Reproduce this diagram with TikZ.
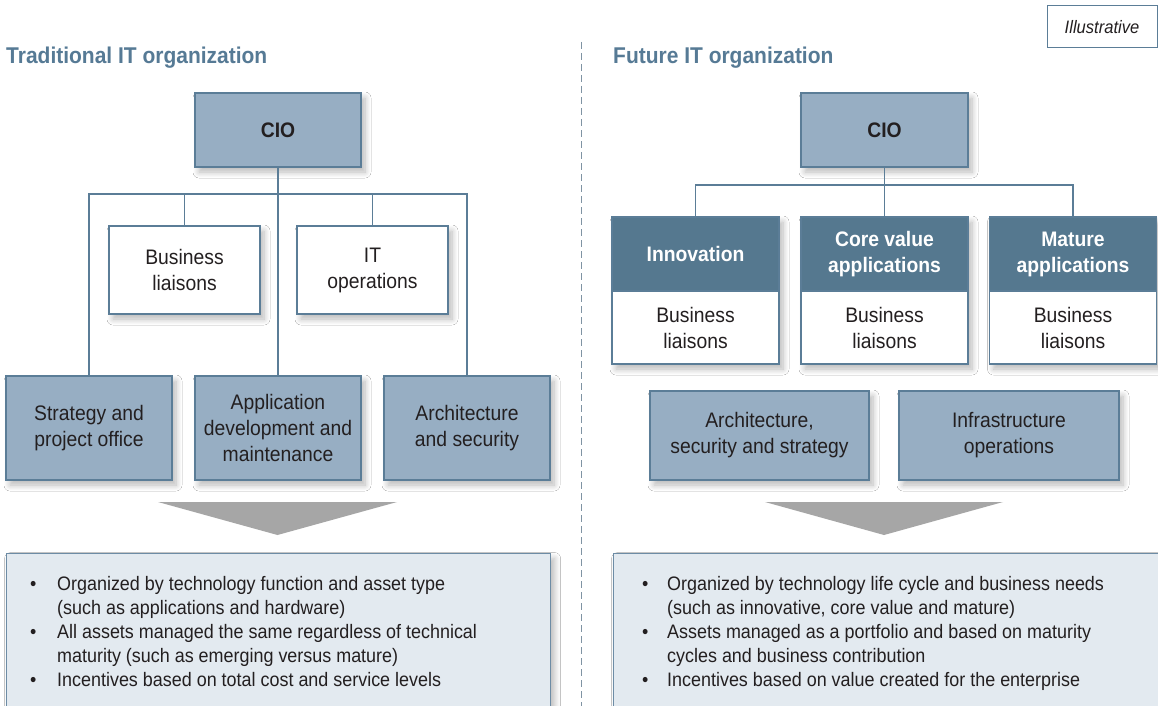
\documentclass[tikz,border=0pt]{standalone}
\usepackage{fontspec}
\setmainfont{Liberation Sans}[FakeStretch=0.92]
\usetikzlibrary{shadows.blur}
\definecolor{titlec}{HTML}{567A95}
\definecolor{boxfill}{HTML}{97AEC3}
\definecolor{bordc}{HTML}{5B7D97}
\definecolor{darkhead}{HTML}{55788F}
\definecolor{sumfill}{HTML}{E3EAF0}
\definecolor{sumbord}{HTML}{6D8CA5}
\definecolor{arrowc}{HTML}{A6A6A6}
\definecolor{txt}{HTML}{231F20}
\definecolor{divc}{HTML}{7F93A3}
\newcommand\bxf{\fontsize{21}{26}\selectfont}
\newcommand\blf{\fontsize{19.5}{24}\selectfont}
\tikzset{
  shad/.style={blur shadow={shadow xshift=4pt, shadow yshift=-5pt, shadow blur radius=6pt, shadow blur steps=8, shadow opacity=28}},
  plainbox/.style={draw=bordc, line width=1.2pt, fill=boxfill, inner sep=0pt, align=center, text=txt, font=\bxf},
  orgbox/.style={plainbox, shad},
  whitebox/.style={orgbox, fill=white},
  headbox/.style={plainbox, fill=darkhead, text=white, font=\bxf\bfseries},
  bodybox/.style={plainbox, fill=white},
  conn/.style={draw=bordc, line width=1.2pt},
  sumbox/.style={draw=sumbord, line width=1.2pt, fill=sumfill, inner sep=0pt, shad},
  titletxt/.style={font=\fontsize{22.8}{26}\selectfont\bfseries, text=titlec, inner sep=0pt, anchor=base west},
  bullets/.style={anchor=north west, inner sep=0pt, text=txt, font=\blf}
}
\begin{document}
\begin{tikzpicture}[x=1pt,y=-1pt]
\clip (0,0) rectangle (1158,706);
\fill[white] (0,0) rectangle (1158,706);

% divider
\draw[divc, line width=1pt, dash pattern=on 7pt off 4pt] (581,42) -- (581,706);

% illustrative
\node[draw=bordc, line width=1pt, fill=white, minimum width=110pt, minimum height=42pt, inner sep=0pt,
      font=\fontsize{18}{20}\selectfont\itshape, text=txt] (illus) at (1102,27) {Illustrative};

% titles
\node[titletxt] (titleL) at (6,64) {Traditional IT organization};
\node[titletxt] (titleR) at (613,64) {Future IT organization};

% ---------- left ----------
\node[orgbox, minimum width=166pt, minimum height=74pt, font=\bxf\bfseries] (cioL) at (278,130) {CIO};
\node[whitebox, minimum width=151pt, minimum height=88pt] (blL) at (184.5,270) {Business\\liaisons};
\node[whitebox, minimum width=151pt, minimum height=88pt] (itL) at (372.5,270) {IT\\operations};
\node[orgbox, minimum width=166pt, minimum height=104pt] (stratL) at (89,428) {Strategy and\\project office};
\node[orgbox, minimum width=166pt, minimum height=104pt] (appL) at (278,428) {Application\\development and\\maintenance};
\node[orgbox, minimum width=166pt, minimum height=104pt] (archL) at (467,428) {Architecture\\and security};

\coordinate (hL) at (278,194);
\draw[conn] (cioL.south) -- (appL.north);
\draw[conn] (stratL.north) -- (stratL.north |- hL) -- (archL.north |- hL) -- (archL.north);
\draw[conn] (blL.north) -- (blL.north |- hL);
\draw[conn] (itL.north) -- (itL.north |- hL);

\fill[arrowc] (158,502) -- (397,502) -- (277.5,535) -- cycle;

\node[sumbox, anchor=north west, minimum width=544pt, minimum height=180pt] (sumL) at (6,553) {};
\node[bullets] (txtL) at (30,573) {\begin{tabular}{@{}p{27pt}@{}l@{}}
\textbullet & Organized by technology function and asset type\\
 & (such as applications and hardware)\\
\textbullet & All assets managed the same regardless of technical\\
 & maturity (such as emerging versus mature)\\
\textbullet & Incentives based on total cost and service levels
\end{tabular}};

% ---------- right ----------
\node[orgbox, minimum width=167pt, minimum height=74pt, font=\bxf\bfseries] (cioR) at (884.5,130) {CIO};

% column shadows (one per two-part box)
\path[shad, fill=white] (612,217) rectangle (779,364);
\path[shad, fill=white] (801,217) rectangle (968,364);
\path[shad, fill=white] (989.5,217) rectangle (1156.5,364);

\node[headbox, minimum width=167pt, minimum height=74pt] (innoR) at (695.5,254) {Innovation};
\node[bodybox, minimum width=167pt, minimum height=73pt] (innoB) at (695.5,327.5) {Business\\liaisons};
\node[headbox, minimum width=167pt, minimum height=74pt] (coreR) at (884.5,254) {Core value\\applications};
\node[bodybox, minimum width=167pt, minimum height=73pt] (coreB) at (884.5,327.5) {Business\\liaisons};
\node[headbox, minimum width=167pt, minimum height=74pt] (matR) at (1073,254) {Mature\\applications};
\node[bodybox, minimum width=167pt, minimum height=73pt] (matB) at (1073,327.5) {Business\\liaisons};

\coordinate (hR) at (884.5,185);
\draw[conn] (cioR.south) -- (coreR.north);
\draw[conn] (innoR.north) -- (innoR.north |- hR) -- (matR.north |- hR) -- (matR.north);

\node[orgbox, minimum width=219pt, minimum height=89pt] (archR) at (759.5,435.5) {Architecture,\\security and strategy};
\node[orgbox, minimum width=220pt, minimum height=89pt] (infraR) at (1009,435.5) {Infrastructure\\operations};

\fill[arrowc] (765,502) -- (1003,502) -- (884,535) -- cycle;

\node[sumbox, anchor=north west, minimum width=560pt, minimum height=180pt] (sumR) at (613,553) {};
\node[bullets] (txtR) at (642,573) {\begin{tabular}{@{}p{25pt}@{}l@{}}
\textbullet & Organized by technology life cycle and business needs\\
 & (such as innovative, core value and mature)\\
\textbullet & Assets managed as a portfolio and based on maturity\\
 & cycles and business contribution\\
\textbullet & Incentives based on value created for the enterprise
\end{tabular}};
\end{tikzpicture}
\end{document}
